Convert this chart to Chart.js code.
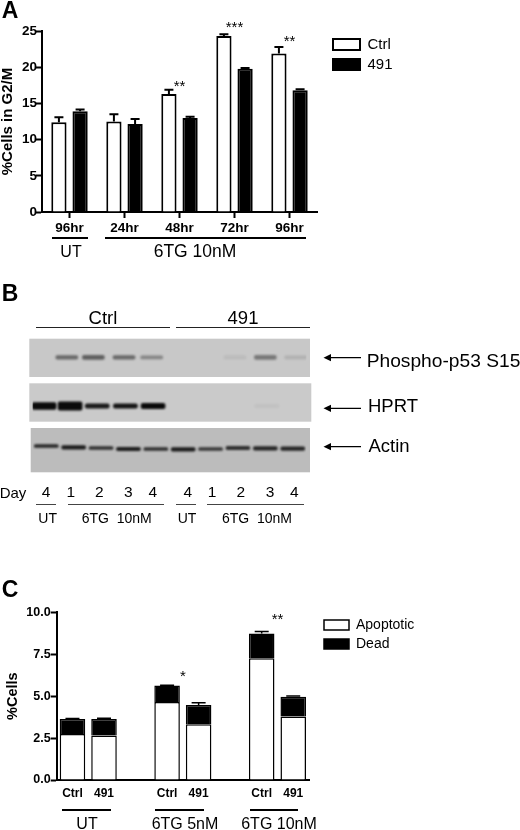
<!DOCTYPE html>
<html>
<head>
<meta charset="utf-8">
<script src="https://cdn.jsdelivr.net/npm/chart.js@4/dist/chart.umd.min.js"></script>
<style>
    html, body { margin: 0; padding: 0; background: #fff; }
    #fig { position: relative; width: 520px; height: 830px; overflow: hidden; font-family: "Liberation Sans", Arial, sans-serif; color: #000; filter: blur(0.35px); }
    #fig canvas { position: absolute; }
    .txt { position: absolute; transform: translate(-50%, -50%); white-space: pre; line-height: 1; }
    .rule { position: absolute; }
</style>
</head>
<body>
<div id="fig">
    <canvas id="chartA" width="420" height="260" style="left:0;top:0"></canvas>
    <canvas id="blotB" width="283" height="135" style="left:29px;top:338px"></canvas>
    <canvas id="chartC" width="430" height="250" style="left:0;top:570px"></canvas>
    <svg id="arrows" width="520" height="830" style="position:absolute;left:0;top:0"></svg>
</div>
<script>
// Panel A: %cells in G2/M
const timesA = ['96hr', '24hr', '48hr', '72hr', '96hr'];
const ctrlA = [12.4, 12.5, 16.3, 24.3, 21.9];
const drugA = [13.9, 12.15, 13.0, 19.8, 16.8];
const ctrlErrA = [0.7, 1.0, 0.6, 0.25, 0.9];
const drugErrA = [0.25, 0.7, 0.15, 0.1, 0.15];
const starSlotsA = [2, 3, 4];
const starTextA = ['**', '***', '**'];
const starLevelsA = [17.5, 25.75, 23.8];
const ticksA = [0, 5, 10, 15, 20, 25];

// Panel B: blot bands. Lane numbers drift a little from row to row on the film
const dayLanes = ['4', '1', '2', '3', '4', '4', '1', '2', '3', '4'];
const p53Lane = [0.75, 1.72, 2.84, 3.85, 6.89, 8, 9.11];
const p53Density = [0.5, 0.55, 0.5, 0.35, 0.07, 0.42, 0.12];
const p53Thick = [3.5, 4, 3.5, 3, 3, 4, 3];
const hprtLane = [-0.08, 0.87, 1.86, 2.89, 3.9, 8.05];
const hprtDensity = [1, 1, 0.92, 0.95, 1, 0.05];
const hprtThick = [7, 8.5, 4.5, 4.5, 5.5, 3];
const actinRow = [108, 109.3, 110, 111, 111, 111.3, 111, 110, 110.3, 110.7];
const actinDensity = [0.85, 0.9, 0.8, 0.9, 0.8, 0.9, 0.75, 0.8, 0.85, 0.85];
const actinThick = [3, 3.5, 3, 3.5, 3, 3.5, 3, 3.5, 3.5, 3.5];

// Panel C: %cells, stacked
const labelsC = ['Ctrl', '491', '', 'Ctrl', '491', '', 'Ctrl', '491'];
const apoptoticC = [2.74, 2.66, null, 4.65, 3.32, null, 7.26, 3.78];
const deadC = [0.9, 0.98, null, 0.98, 1.15, null, 1.47, 1.19];
const deadErrC = [0.03, 0.04, null, 0.02, 0.14, null, 0.12, 0.04];
const starSlotsC = [3.5, 6.5];
const starTextC = ['*', '**'];
const starLevelsC = [6.26, 9.66];
const ticksC = [0, 2.5, 5, 7.5, 10];

Chart.defaults.font.family = '"Liberation Sans", Arial, sans-serif';
Chart.defaults.color = '#000';

const fig = document.getElementById('fig');

function addText(text, x, y, size, weight, extra) {
    const el = document.createElement('div');
    el.className = 'txt';
    el.textContent = text;
    el.style.cssText = `left:${x}px;top:${y}px;font-size:${size}px;font-weight:${weight || 'normal'};${extra || ''}`;
    fig.appendChild(el);
}

function addRule(x1, x2, y, h, color) {
    const el = document.createElement('div');
    el.className = 'rule';
    el.style.cssText = `left:${x1}px;top:${y - h / 2}px;width:${x2 - x1}px;height:${h}px;background:${color}`;
    fig.appendChild(el);
}

// whiskers go up from the top of each bar
function errorBars(errsByDataset, capWidth, lineWidth) {
    return {
        id: 'errorBars',
        afterDatasetsDraw(chart) {
            const ctx = chart.ctx;
            const y = chart.scales.y;
            ctx.save();
            ctx.strokeStyle = '#000';
            ctx.lineWidth = lineWidth;
            errsByDataset.forEach((errs, d) => {
                if (!errs) return;
                chart.getDatasetMeta(d).data.forEach((bar, i) => {
                    if (errs[i] == null) return;
                    const top = bar.y - (y.getPixelForValue(0) - y.getPixelForValue(errs[i]));
                    ctx.beginPath();
                    ctx.moveTo(bar.x, bar.y);
                    ctx.lineTo(bar.x, top);
                    ctx.moveTo(bar.x - capWidth / 2, top);
                    ctx.lineTo(bar.x + capWidth / 2, top);
                    ctx.stroke();
                });
            });
            ctx.restore();
        }
    };
}

function sigStars(slots, texts, levels, size) {
    return {
        id: 'sigStars',
        afterDraw(chart) {
            const ctx = chart.ctx;
            ctx.save();
            ctx.font = `${size}px "Liberation Sans"`;
            ctx.textAlign = 'center';
            ctx.textBaseline = 'alphabetic';
            ctx.fillStyle = '#000';
            texts.forEach((t, i) => {
                const px = chart.scales.x.getPixelForValue(slots[i]);
                const py = chart.scales.y.getPixelForValue(levels[i]);
                ctx.fillText(t, px, py + size * 0.4);
            });
            ctx.restore();
        }
    };
}

// the legend sits outside the plot at a fixed place
function placeLegend(left, top) {
    return {
        id: 'placeLegend',
        afterLayout(chart) {
            const lg = chart.legend;
            lg.left = left;
            lg.right = left + 150;
            lg.top = top;
            lg.bottom = top + 80;
        }
    };
}

function axisY(cfgTicks, fontSize, tickLen, tickPad, title, titleSize, titlePad, axisWidth, tickFormat) {
    return {
        min: 0,
        max: cfgTicks[cfgTicks.length - 1],
        afterBuildTicks: (s) => { s.ticks = cfgTicks.map(v => ({ value: v })); },
        afterFit: (s) => { s.width = axisWidth; },
        border: { display: true, color: '#000', width: 2 },
        grid: { drawOnChartArea: false, drawTicks: true, tickLength: tickLen, tickWidth: 2, tickColor: '#000' },
        ticks: { font: { size: fontSize, weight: 'bold' }, padding: tickPad, callback: tickFormat },
        title: {
            display: true,
            text: title,
            font: { size: titleSize, weight: 'bold', lineHeight: 1 },
            padding: { top: titlePad, bottom: 0 }
        }
    };
}

new Chart(document.getElementById('chartA'), {
    type: 'bar',
    data: {
        labels: timesA,
        datasets: [
            { label: 'Ctrl', data: ctrlA, backgroundColor: '#fff', borderColor: '#000', borderWidth: 2 },
            { label: '491', data: drugA, backgroundColor: '#000', borderColor: '#000', borderWidth: 2 }
        ]
    },
    options: {
        responsive: false,
        animation: false,
        devicePixelRatio: 1,
        categoryPercentage: 0.77,
        barPercentage: 0.72,
        layout: { padding: { left: 0, top: 31, right: 103, bottom: 0 } },
        scales: {
            x: {
                afterFit: (s) => { s.height = 48; },
                border: { display: true, color: '#000', width: 2 },
                grid: { offset: false, drawOnChartArea: false, drawTicks: true, tickLength: 6, tickWidth: 2, tickColor: '#000' },
                ticks: { font: { size: 13.5, weight: 'bold' }, padding: 2, autoSkip: false, maxRotation: 0 }
            },
            y: axisY(ticksA, 13.5, 6, -1, '%Cells in G2/M', 15, 0, 42, v => v)
        },
        plugins: {
            tooltip: { enabled: false },
            legend: {
                position: 'chartArea',
                align: 'start',
                labels: { boxWidth: 27, boxHeight: 11, padding: 5, font: { size: 15 }, color: '#000' }
            }
        }
    },
    plugins: [errorBars([ctrlErrA, drugErrA], 9, 2), sigStars(starSlotsA, starTextA, starLevelsA, 15), placeLegend(328, 32)]
});

// each band is a floating bar on a lane-number axis, blot rows are the y axis
function bandData(lanes, rows, thick) {
    return thick.map((t, i) => ({ x: lanes[i], y: [rows[i] - t / 2, rows[i] + t / 2] }));
}
function bandColors(density) {
    return density.map(a => `rgba(10,10,10,${a})`);
}
const blotPanels = [
    { top: 0.7, bottom: 39, left: 0.3, right: 281, fill: '#c8c8c8' },
    { top: 45.3, bottom: 83.7, left: 0.3, right: 282.3, fill: '#cacaca' },
    { top: 90, bottom: 134.3, left: 1.7, right: 281, fill: '#bcbcbc' }
];
const p53Rows = p53Thick.map(() => 19.3);
const hprtRows = hprtThick.map(() => 68);
const actinLane = dayLanes.map((d, i) => i);

new Chart(document.getElementById('blotB'), {
    type: 'bar',
    data: {
        datasets: [
            { label: 'Phospho-p53 S15', data: bandData(p53Lane, p53Rows, p53Thick), backgroundColor: bandColors(p53Density), barThickness: 22 },
            { label: 'HPRT', data: bandData(hprtLane, hprtRows, hprtThick), backgroundColor: bandColors(hprtDensity), barThickness: 24 },
            { label: 'Actin', data: bandData(actinLane, actinRow, actinThick), backgroundColor: bandColors(actinDensity), barThickness: 24 }
        ]
    },
    options: {
        responsive: false,
        animation: false,
        devicePixelRatio: 1,
        grouped: false,
        borderRadius: 2,
        borderSkipped: false,
        layout: { padding: { left: 3.6, right: 5.6, top: 0, bottom: 0 } },
        scales: {
            x: { type: 'linear', display: false, min: -0.5, max: 9.5, offset: false },
            y: { display: false, reverse: true, min: 0, max: 135 }
        },
        plugins: { legend: { display: false }, tooltip: { enabled: false } }
    },
    plugins: [{
        id: 'blotPanels',
        beforeDatasetsDraw(chart) {
            const ctx = chart.ctx;
            blotPanels.forEach(p => {
                ctx.fillStyle = p.fill;
                ctx.fillRect(p.left, p.top, p.right - p.left, p.bottom - p.top);
            });
            ctx.save();
            ctx.filter = 'blur(0.9px)';
        },
        afterDatasetsDraw(chart) {
            chart.ctx.restore();
        }
    }]
});

new Chart(document.getElementById('chartC'), {
    type: 'bar',
    data: {
        labels: labelsC,
        datasets: [
            { label: 'Apoptotic', data: apoptoticC, backgroundColor: '#fff', borderColor: '#000', borderWidth: 1.5 },
            { label: 'Dead', data: deadC, backgroundColor: '#000', borderColor: '#000', borderWidth: 1.5 }
        ]
    },
    options: {
        responsive: false,
        animation: false,
        devicePixelRatio: 1,
        categoryPercentage: 1,
        barPercentage: 0.81,
        layout: { padding: { left: 0, top: 42.3, right: 121, bottom: 0 } },
        scales: {
            x: {
                stacked: true,
                afterFit: (s) => { s.height = 40; },
                border: { display: true, color: '#000', width: 2 },
                grid: { display: false, drawTicks: false },
                ticks: { font: { size: 12, weight: 'bold' }, padding: 6, autoSkip: false, maxRotation: 0 }
            },
            y: Object.assign(axisY(ticksC, 12.5, 6, 0, '%Cells', 14.5, 6, 56.7, v => v.toFixed(1)), { stacked: true })
        },
        plugins: {
            tooltip: { enabled: false },
            legend: {
                position: 'chartArea',
                align: 'start',
                labels: { boxWidth: 25, boxHeight: 10, padding: 5, font: { size: 14 }, color: '#000' }
            }
        }
    },
    plugins: [errorBars([null, deadErrC], 14, 1.5), sigStars(starSlotsC, starTextC, starLevelsC, 15), placeLegend(319, 43)]
});

// panel letters
addText('A', 10, 10, 23, 'bold');
addText('B', 10, 293, 23, 'bold');
addText('C', 10, 589, 23, 'bold');

// panel A group labels
addRule(52, 88, 237.5, 2, '#000');
addRule(104.7, 306, 237.5, 2, '#000');
addText('UT', 71, 251.5, 16);
addText('6TG 10nM', 195, 251.5, 17.5);

// panel B labels
addText('Ctrl', 103, 317.5, 18.5);
addText('491', 243, 317.5, 18.5);
addRule(36, 170, 327.5, 1, '#222');
addRule(175.7, 310, 327.5, 1, '#222');

addText('Phospho-p53 S15', 443.5, 361, 19.2);
addText('HPRT', 393, 406, 18.5);
addText('Actin', 389, 446, 18.5);

addText('Day', 13, 491.5, 15);
const laneTextX = [46, 70.7, 99.3, 128.3, 152.7, 187.7, 212, 240.7, 270, 294.3];
dayLanes.forEach((d, i) => addText(d, laneTextX[i], 491.5, 15.5));
addRule(36, 55.7, 504, 1, '#444');
addRule(67.7, 164, 504, 1, '#444');
addRule(175.7, 195.7, 504, 1, '#444');
addRule(207.3, 304, 504, 1, '#444');
addText('UT', 47.7, 518, 14);
addText('6TG  10nM', 116.7, 518, 14);
addText('UT', 187, 518, 14);
addText('6TG  10nM', 257, 518, 14);

// arrows pointing at the bands
document.getElementById('arrows').innerHTML = [357.7, 408.3, 446.7].map(y =>
    `<line x1="361" y1="${y}" x2="328" y2="${y}" stroke="#000" stroke-width="1.3"/>` +
    `<polygon points="323.5,${y} 331,${y - 3.6} 331,${y + 3.6}" fill="#000"/>`
).join('');

// panel C group labels
addRule(62, 110.7, 810, 2, '#000');
addRule(155, 204, 810, 2, '#000');
addRule(249.7, 298.3, 810, 2, '#000');
addText('UT', 87, 824, 16);
addText('6TG 5nM', 185, 824, 16);
addText('6TG 10nM', 279, 824, 16);
</script>
</body>
</html>
